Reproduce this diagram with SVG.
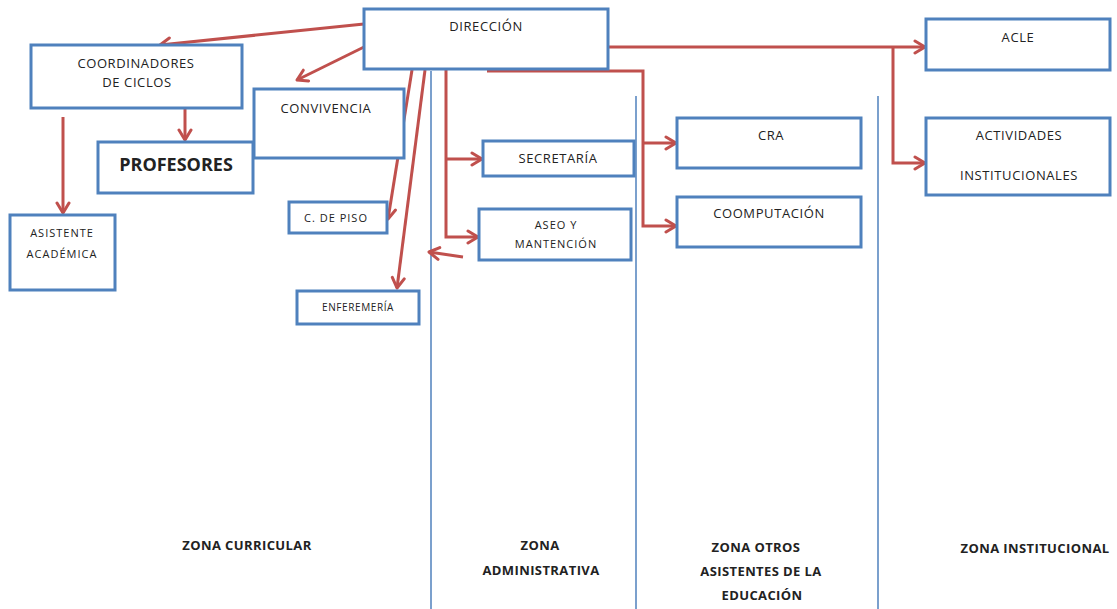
<svg xmlns="http://www.w3.org/2000/svg" width="1117" height="609" viewBox="0 0 1117 609">
<style>
.box{fill:#fff;stroke:#4F81BD;stroke-width:3}
.zone{stroke:#4F81BD;stroke-width:1.5;fill:none}
.con{stroke:#C0504D;stroke-width:3;fill:none;marker-end:url(#arr)}
text{font-family:"Open Sans","Liberation Sans",sans-serif;fill:#222;text-anchor:middle}
.t{font-size:13px;letter-spacing:0.6px}
.s{font-size:11px;letter-spacing:1px}
.xs{font-size:10px;letter-spacing:0.6px}
.b{font-size:13px;font-weight:bold;letter-spacing:0.4px}
.big{font-size:18px;font-weight:bold}
</style>
<defs>
<marker id="arr" markerUnits="userSpaceOnUse" viewBox="0 0 14 16" refX="12" refY="8" markerWidth="14" markerHeight="16" orient="auto">
<path d="M2,2 L12,8 L2,14" fill="none" stroke="#C0504D" stroke-width="3" stroke-linecap="round" stroke-linejoin="round"/>
</marker>
</defs>
<rect width="1117" height="609" fill="#fff"/>
<g id="zones">
<line class="zone" x1="431" y1="71" x2="431" y2="609"/>
<line class="zone" x1="636" y1="96" x2="636" y2="609"/>
<line class="zone" x1="878" y1="96" x2="878" y2="609"/>
</g>
<g id="connectors">
<line class="con" x1="364" y1="24" x2="160" y2="45"/>
<line class="con" x1="364" y1="47" x2="297" y2="80"/>
<line class="con" x1="185" y1="109" x2="185" y2="140"/>
<line class="con" x1="63" y1="117" x2="63" y2="213"/>
<line class="con" x1="412" y1="70" x2="388" y2="219"/>
<line class="con" x1="425" y1="70" x2="397" y2="288"/>
<line class="con" x1="463" y1="257" x2="429" y2="252"/>
<path class="con" d="M446,70 V237 H478"/>
<path class="con" d="M446,159 H482"/>
<path class="con" d="M487,71 H643 V226 H676"/>
<path class="con" d="M643,143 H676"/>
<path class="con" d="M608,47 H925"/>
<path class="con" d="M893,47 V163 H925"/>
</g>
<g id="direccion">
<rect class="box" x="364" y="9" width="244" height="60"/>
<text class="t" x="486" y="31">DIRECCIÓN</text>
</g>
<g id="coordinadores">
<rect class="box" x="31" y="45" width="211" height="63"/>
<text class="t" x="136" y="68">COORDINADORES</text>
<text class="t" x="137" y="87">DE CICLOS</text>
</g>
<g id="convivencia">
<rect class="box" x="254" y="89" width="150" height="69"/>
<text class="t" x="326" y="113">CONVIVENCIA</text>
</g>
<g id="profesores">
<rect class="box" x="98" y="142" width="155" height="51"/>
<text class="big" x="176" y="171">PROFESORES</text>
</g>
<g id="asistente">
<rect class="box" x="10" y="215" width="105" height="75"/>
<text class="s" x="62" y="237">ASISTENTE</text>
<text class="s" x="62" y="258">ACADÉMICA</text>
</g>
<g id="piso">
<rect class="box" x="289" y="202" width="98" height="31"/>
<text class="s" x="336" y="222">C. DE  PISO</text>
</g>
<g id="enfermeria">
<rect class="box" x="297" y="291" width="122" height="33"/>
<text class="xs" x="358" y="311">ENFEREMERÍA</text>
</g>
<g id="secretaria">
<rect class="box" x="483" y="141" width="151" height="35"/>
<text class="t" x="558" y="163">SECRETARÍA</text>
</g>
<g id="aseo">
<rect class="box" x="479" y="209" width="152" height="51"/>
<text class="s" x="556" y="229">ASEO  Y</text>
<text class="s" x="556" y="248">MANTENCIÓN</text>
</g>
<g id="cra">
<rect class="box" x="677" y="118" width="184" height="50"/>
<text class="t" x="771" y="140">CRA</text>
</g>
<g id="computacion">
<rect class="box" x="677" y="197" width="184" height="50"/>
<text class="t" x="769" y="218">COOMPUTACIÓN</text>
</g>
<g id="acle">
<rect class="box" x="926" y="19" width="184" height="51"/>
<text class="t" x="1018" y="42">ACLE</text>
</g>
<g id="actividades">
<rect class="box" x="926" y="118" width="184" height="77"/>
<text class="t" x="1019" y="140">ACTIVIDADES</text>
<text class="t" x="1019" y="180">INSTITUCIONALES</text>
</g>
<g id="labels">
<text class="b" x="247" y="550">ZONA CURRICULAR</text>
<text class="b" x="540" y="550">ZONA</text>
<text class="b" x="541" y="575">ADMINISTRATIVA</text>
<text class="b" x="756" y="552">ZONA OTROS</text>
<text class="b" x="761" y="576">ASISTENTES DE LA</text>
<text class="b" x="762" y="600">EDUCACIÓN</text>
<text class="b" x="1035" y="553">ZONA INSTITUCIONAL</text>
</g>
</svg>
